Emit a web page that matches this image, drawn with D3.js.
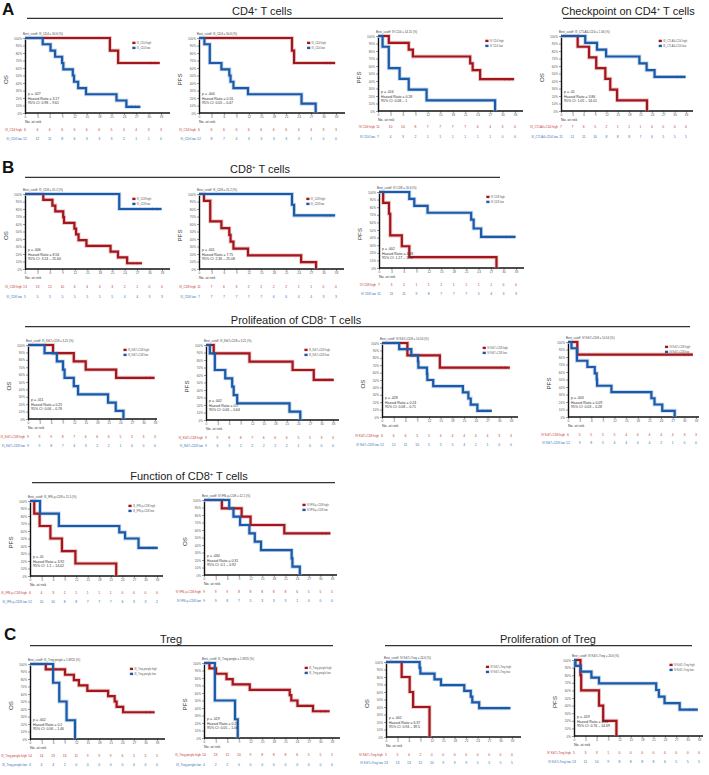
<!DOCTYPE html>
<html><head><meta charset="utf-8">
<script src="https://cdn.jsdelivr.net/npm/d3@7"></script>
<style>
body{margin:0;background:#fff;}
text{font-family:"Liberation Sans",Arial,Helvetica,sans-serif;}
</style></head>
<body><svg id="c" width="709" height="775"></svg>
<script>
// ---------- DATA ----------
const months = [0,3,6,9,12,15,18,21,24,27,30,33];
const yTicks = [0,10,20,30,40,50,60,70,80,90,100];

// Kaplan-Meier steps [month, survival %] — "high" group (red) and "low" group (blue)
const a1High = [[0,100],[20.6,83.3],[22.6,66.7],[32.7,66.7]];
const a1Low  = [[0,100],[4.3,91.7],[6.2,83.3],[7.3,75],[9.0,66.7],[9.3,58.3],[11.6,50],[11.9,41.7],[12.9,33.3],[14.8,25],[22.2,16.7],[24.6,8.3],[28,8.3]];
const a2High = [[0,100],[22.4,83.3],[22.9,66.7],[32.8,66.7]];
const a2Low  = [[0,100],[1.3,91.7],[2.6,66.7],[5.4,58.3],[7.3,50],[7.6,41.7],[8.3,33.3],[11.8,25],[24.7,12.5],[28.1,0]];
const a3High = [[0,100],[2.6,90.9],[7.4,81.8],[8.4,72.7],[22.2,63.6],[22.8,54.5],[24.6,42.4],[32.8,42.4]];
const a3Low  = [[0,100],[1.1,85.7],[2.6,57.1],[5.2,42.9],[7.4,28.6],[11.7,14.3],[28.2,0]];
const a4High = [[0,100],[4.4,85.7],[7.4,71.4],[9.3,57.1],[11.7,42.9],[13.0,28.6],[14.8,14.3],[22.7,0]];
const a4Low  = [[0,100],[6.4,90.9],[9.5,81.8],[11.9,72.7],[20.7,63.6],[22.6,54.5],[24.7,45.5],[32.9,45.5]];
const b1High = [[0,100],[4.4,92.3],[6.6,84.6],[7.3,76.9],[9.2,69.2],[9.4,61.5],[11.9,53.8],[12.3,46.2],[12.9,38.5],[14.8,30.8],[20.6,23.1],[22.4,15.4],[24.6,7.7],[28.2,7.7]];
const b1Low  = [[0,100],[22.7,80],[32.9,80]];
const b2High = [[0,100],[1.2,90.9],[2.7,63.6],[5.4,54.5],[7.3,45.5],[7.6,36.4],[8.3,27.3],[11.8,18.2],[24.6,9.1],[28.2,0]];
const b2Low  = [[0,100],[22.4,85.7],[22.9,71.4],[32.8,71.4]];
const b3High = [[0,100],[1.0,85.7],[2.4,71.4],[2.7,42.9],[5.5,28.6],[7.3,14.3],[28.3,0]];
const b3Low  = [[0,100],[7.3,90.9],[8.5,81.8],[11.7,72.7],[22.2,63.6],[22.8,52],[24.6,40.9],[32.9,40.9]];
const p1High = [[0,100],[6.5,88.9],[11.9,77.8],[15.0,66.7],[22.9,55.6],[32.9,55.6]];
const p1Low  = [[0,100],[4.3,88.9],[7.5,77.8],[9.1,66.7],[9.5,55.6],[11.9,44.4],[13.0,33.3],[20.8,22.2],[22.8,11.1],[24.8,0]];
const p2High = [[0,100],[2.0,88.9],[11.3,77.8],[22.5,66.7],[28.0,53.5],[33.2,53.5]];
const p2Low  = [[0,100],[1.0,88.9],[2.3,66.7],[5.0,55.6],[6.8,44.4],[7.2,33.3],[8.1,22.2],[21.7,11.1],[24.5,0]];
const p3High = [[0,100],[6.5,83.3],[14.8,66.7],[32.7,66.7]];
const p3Low  = [[0,100],[4.4,91.7],[7.5,83.3],[9.2,75],[9.3,66.7],[11.5,58.3],[11.6,50],[13.1,41.7],[20.7,33.3],[22.1,25],[22.7,16.7],[24.4,8.3],[28.1,8.3]];
const p4High = [[0,100],[2.4,83.3],[32.2,83.3]];
const p4Low  = [[0,100],[0.9,91.7],[2.3,75],[5.0,66.7],[6.9,58.3],[7.4,50],[7.5,41.7],[11.2,33.3],[21.5,25],[22.3,16.7],[24.3,8.3],[27.5,0]];
const f1High = [[0,100],[1.1,83.3],[2.5,66.7],[5.3,50],[8.3,33.3],[11.8,16.7],[22.4,0]];
const f1Low  = [[0,100],[2.6,83.3],[7.5,66.7],[23.2,58.3],[24.7,50],[28.2,37.5],[33.2,37.5]];
const f2High = [[0,100],[4.6,88.9],[9.7,77.8],[12.0,66.7],[20.7,55.6],[32.6,55.6]];
const f2Low  = [[0,100],[6.5,88.9],[7.6,77.8],[9.3,66.7],[11.7,55.6],[13.1,44.4],[14.7,33.3],[22.6,22.2],[22.8,11.1],[24.7,0]];
const c1High = [[0,100],[4.1,92.9],[9.1,85.7],[11.4,78.6],[12.7,71.4],[14.9,64.3],[20.3,57.1],[22.0,50],[22.5,42.9],[24.2,35.7],[32.4,35.7]];
const c1Low  = [[0,100],[6.0,75],[7.6,50],[9.5,25],[11.7,0]];
const c2High = [[0,100],[1.4,92.9],[3.1,85.7],[5.8,78.6],[7.4,71.4],[11.8,64.3],[22.1,57.1],[22.5,50],[24.1,42.9],[28.1,35.7],[32.4,35.7]];
const c2Low  = [[0,100],[2.8,50],[8.0,25],[8.7,0]];
const c3High = [[0,100],[4.1,80],[6.2,60],[7.1,40],[11.4,0]];
const c3Low  = [[0,100],[8.8,92.3],[9.0,84.6],[12.7,76.9],[14.4,69.2],[20.5,61.5],[22.2,53.8],[22.6,46.2],[24.4,38.5],[32.6,38.5]];
const c4High = [[0,100],[1.7,80],[1.9,60],[6.6,40],[7.7,20],[11.2,0]];
const c4Low  = [[0,100],[0.4,92.3],[1.8,84.6],[4.6,76.9],[6.6,69.2],[21.7,60.5],[22.4,51.8],[23.9,43.2],[27.9,34.6],[32.7,34.6]];

// numbers at risk (months 0..33)
const a1RiskHi=[6,6,6,6,6,6,6,5,4,4,3,3],  a1RiskLo=[12,12,11,8,6,3,3,3,2,1,1,0];
const a2RiskHi=[6,6,6,6,6,6,6,6,4,4,3,3],  a2RiskLo=[12,8,7,4,3,3,3,3,3,1,0,0];
const a3RiskHi=[11,10,10,8,7,7,7,7,6,4,3,0], a3RiskLo=[7,4,3,2,1,1,1,1,1,1,0,0];
const a4RiskHi=[7,7,6,5,2,1,1,1,0,0,0,0],  a4RiskLo=[11,11,11,10,8,8,8,7,6,5,5,5];
const b1RiskHi=[13,13,12,10,6,4,4,3,2,1,0,0], b1RiskLo=[5,5,5,5,5,5,5,5,4,4,3,3];
const b2RiskHi=[11,7,6,3,2,2,2,2,1,1,0,0], b2RiskLo=[7,7,7,7,7,7,6,6,4,4,3,3];
const b3RiskHi=[7,3,2,1,1,1,1,1,1,1,0,0],  b3RiskLo=[11,11,11,9,8,7,7,7,5,4,3,3];
const p1RiskHi=[9,9,9,8,7,6,6,6,5,5,3,3],  p1RiskLo=[9,9,8,7,4,3,2,2,1,0,0,0];
const p2RiskHi=[9,9,8,8,7,6,6,6,5,5,3,3],  p2RiskLo=[9,6,3,2,2,2,2,2,1,0,0,0];
const p3RiskHi=[6,6,6,5,5,4,4,4,4,4,3,3],  p3RiskLo=[12,12,11,10,5,5,5,4,2,1,0,0];
const p4RiskHi=[6,5,5,5,5,4,4,4,4,4,3,3],  p4RiskLo=[12,9,8,5,4,4,4,4,2,1,0,0];
const f1RiskHi=[6,4,3,2,1,1,1,1,0,0,0,0],  f1RiskLo=[12,10,10,8,8,7,7,7,6,3,3,2];
const f2RiskHi=[9,9,9,8,8,8,8,8,6,5,5,5],  f2RiskLo=[9,9,8,7,5,3,3,3,1,0,0,0];
const c1RiskHi=[14,14,13,13,11,9,9,9,6,5,5,5], c1RiskLo=[4,4,4,2,0,0,0,0,0,0,0,0];
const c2RiskHi=[14,13,11,10,9,8,8,8,6,5,5,5], c2RiskLo=[4,2,2,0,0,0,0,0,0,0,0,0];
const c3RiskHi=[5,5,4,2,0,0,0,0,0,0,0,0],  c3RiskLo=[13,13,13,12,10,9,9,9,5,5,5,5];
const c4RiskHi=[5,3,3,1,0,0,0,0,0,0,0,0],  c4RiskLo=[13,11,10,9,8,8,8,8,6,5,5,5];

// texts per panel (A1..A4, B1..B3, P1..P4, F1..F2, C1..C4)
const endpoints = ["OS","PFS","PFS","OS","OS","PFS","PFS","OS","PFS","OS","PFS","PFS","OS","OS","PFS","OS","PFS"];
const groupNames = ["III_CD4","III_CD4","IV CD4","III_CTLA4+CD4","III_CD8","III_CD8","IV CD8","III_Ki67+CD8","III_Ki67+CD8","IV Ki67+CD8","IV Ki67+CD8","III_IFN-γ+CD8","IV IFN-γ+CD8","III_Treg.perglo","III_Treg.perglo","IV Ki67+Treg","IV Ki67+Treg"];
const cutoffs = ["30.6","30.6","14.15","1.06","31.2","31.2","20.6","3.21","3.21","10.54","10.54","11.5","12.1","1.6925","1.6925","24.6","24.6"];
const pValues = [".027",".004",".016",".01",".006",".001",".002",".011",".002",".028",".003",".01",".034",".002",".019",".001",".019"];
const hazardRatios = ["3.17","0.16","0.28","3.86","8.56","7.75","4.68","0.25","0.2","0.24","0.09","3.92","0.31","0.2","0.23","6.37","3.81"];
const confInts = ["0.98 – 9.61","0.05 – 0.47","0.08 – 1","1.05 – 14.01","3.24 – 25.60","2.36 – 25.08","1.17 – 17.2","0.06 – 0.78","0.06 – 0.64","0.08 – 0.71","0.03 – 0.28","1.1 – 14.02","0.1 – 0.92","0.06 – 1.46","0.05 – 1.06","0.94 – 39.5","0.76 – 14.69"];

// section headers
const sectionTitles = [["CD4","T cells"],["Checkpoint on CD4","T cells"],["CD8","T cells"],["Prolifeation of CD8","T cells"],["Function of CD8","T cells"],["Treg",""],["Proliferation of Treg",""]];
const panelLetters = ["A","B","C"];

// ---------- LAYOUT (positions only) ----------
const series = [[a1High,a1Low],[a2High,a2Low],[a3High,a3Low],[a4High,a4Low],[b1High,b1Low],[b2High,b2Low],[b3High,b3Low],
  [p1High,p1Low],[p2High,p2Low],[p3High,p3Low],[p4High,p4Low],[f1High,f1Low],[f2High,f2Low],[c1High,c1Low],[c2High,c2Low],[c3High,c3Low],[c4High,c4Low]];
const risks = [[a1RiskHi,a1RiskLo],[a2RiskHi,a2RiskLo],[a3RiskHi,a3RiskLo],[a4RiskHi,a4RiskLo],[b1RiskHi,b1RiskLo],[b2RiskHi,b2RiskLo],[b3RiskHi,b3RiskLo],
  [p1RiskHi,p1RiskLo],[p2RiskHi,p2RiskLo],[p3RiskHi,p3RiskLo],[p4RiskHi,p4RiskLo],[f1RiskHi,f1RiskLo],[f2RiskHi,f2RiskLo],[c1RiskHi,c1RiskLo],[c2RiskHi,c2RiskLo],[c3RiskHi,c3RiskLo],[c4RiskHi,c4RiskLo]];
const layout = [
 {x0:25,x33:161,x1:170,top:38,bot:113,nar:122.5,r1:131,r2:140},
 {x0:199,x33:336,x1:345,top:38,bot:113,nar:122.5,r1:131,r2:140},
 {x0:378,x33:515,x1:523,top:36,bot:111,nar:120.5,r1:128,r2:138},
 {x0:561,x33:686,x1:693,top:36,bot:111,nar:120.5,r1:128,r2:138},
 {x0:25,x33:162,x1:170,top:194,bot:269,nar:278.5,r1:288,r2:298},
 {x0:199,x33:336,x1:344,top:194,bot:269,nar:278.5,r1:288,r2:298},
 {x0:379,x33:516,x1:524,top:192,bot:268,nar:277.5,r1:286,r2:295},
 {x0:28,x33:155,x1:157,top:345,bot:419,nar:428.5,r1:438,r2:447},
 {x0:206,x33:333,x1:339,top:345,bot:420,nar:429.5,r1:438.5,r2:447},
 {x0:382,x33:511,x1:518,top:343,bot:417,nar:426.5,r1:437,r2:446},
 {x0:568,x33:696,x1:699,top:342,bot:417,nar:426.5,r1:435.5,r2:444},
 {x0:30,x33:157,x1:163,top:501,bot:576,nar:585.5,r1:594,r2:602.5},
 {x0:204,x33:332,x1:337,top:500,bot:575,nar:584.5,r1:593,r2:602},
 {x0:30,x33:157,x1:165,top:664,bot:739,nar:748.5,r1:757,r2:766},
 {x0:204,x33:332,x1:340,top:663,bot:738,nar:747.5,r1:756,r2:766},
 {x0:386,x33:512,x1:521,top:662,bot:737,nar:746.5,r1:756,r2:764},
 {x0:574,x33:699,x1:703,top:660,bot:736,nar:745.5,r1:754,r2:763}
];
const headerLayout = [
 {cx:262,y:15,l1:27,l2:503,ly:18.3},
 {cx:628,y:15,l1:563,l2:682,ly:18.3},
 {cx:260,y:173,l1:25,l2:500,ly:177.3},
 {cx:296,y:324,l1:25,l2:690,ly:326.7},
 {cx:189,y:480,l1:32,l2:335,ly:482.7},
 {cx:171,y:643,l1:30,l2:333,ly:645.7},
 {cx:548,y:643,l1:385,l2:692,ly:645.7}
];
const letterLayout = [{x:2,y:15},{x:2,y:173},{x:4,y:640}];

// ---------- DRAW ----------
const svg = d3.select("#c");
const RED="#a3161c", BLUE="#1b5aa8", RED_T="#c4383a", BLUE_T="#3572b8";

panelLetters.forEach((t,i)=>{
  svg.append("text").attr("x",letterLayout[i].x).attr("y",letterLayout[i].y)
    .attr("font-size",17).attr("font-weight","bold").attr("fill","#111").text(t);
});
sectionTitles.forEach((t,i)=>{
  const h = headerLayout[i];
  const tx = svg.append("text").attr("x",h.cx).attr("y",h.y).attr("text-anchor","middle")
    .attr("font-size",11).attr("fill","#222");
  tx.append("tspan").text(t[0]);
  if (t[1]) {
    tx.append("tspan").attr("font-size",6).attr("dy",-4).text("+");
    tx.append("tspan").attr("dy",4).text(" " + t[1]);
  }
  svg.append("line").attr("x1",h.l1).attr("x2",h.l2).attr("y1",h.ly).attr("y2",h.ly)
    .attr("stroke","#333").attr("stroke-width",1.2);
});

layout.forEach((p,i)=>{
  const g = svg.append("g");
  const x = d3.scaleLinear().domain([0,33]).range([p.x0,p.x33]);
  const y = d3.scaleLinear().domain([0,100]).range([p.bot,p.top]);
  const xEnd = x.invert(p.x1);

  // x axis
  const gx = g.append("g").attr("transform",`translate(0,${p.bot})`)
    .call(d3.axisBottom(x).tickValues(months).tickSize(2).tickSizeOuter(0).tickPadding(1.2));
  gx.select(".domain").remove();
  gx.append("line").attr("x1",x(0)).attr("x2",x(xEnd)).attr("stroke","#111").attr("stroke-width",1.4);
  gx.selectAll(".tick line").attr("stroke","#333").attr("stroke-width",0.5);
  gx.selectAll(".tick text").attr("font-size",3.2).attr("fill","#555");

  // y axis
  const gy = g.append("g").attr("transform",`translate(${p.x0},0)`)
    .call(d3.axisLeft(y).tickValues(yTicks).tickFormat(d=>d+"%").tickSize(2).tickSizeOuter(0).tickPadding(1));
  gy.select(".domain").attr("stroke","#111").attr("stroke-width",1.4);
  gy.selectAll(".tick line").attr("stroke","#333").attr("stroke-width",0.5);
  gy.selectAll(".tick text").attr("font-size",3.1).attr("fill","#555");

  // y label
  g.append("text").attr("transform",`translate(${p.x0-17},${(p.top+p.bot)/2+4}) rotate(-90)`)
    .attr("text-anchor","middle").attr("font-size",6.2).attr("fill","#333").text(endpoints[i]);

  // cutoff caption
  g.append("text").attr("x",p.x0-2).attr("y",p.top-3).attr("font-size",2.9).attr("fill","#444")
    .text(`Best_cutoff: ${groupNames[i]} = ${cutoffs[i]} (%)`);

  // curves
  const line = d3.line().x(d=>x(d[0])).y(d=>y(d[1])).curve(d3.curveStepAfter);
  const cols = [RED, BLUE];
  const halos = ["#e3a9ab","#a8c1e3"];
  series[i].forEach((s,k)=>{
    g.append("path").attr("d",line(s)).attr("fill","none").attr("stroke",halos[k])
      .attr("stroke-width",4).attr("stroke-opacity",0.6);
  });
  series[i].forEach((s,k)=>{
    g.append("path").attr("d",line(s)).attr("fill","none").attr("stroke",cols[k])
      .attr("stroke-width",2.2);
    const last = s[s.length-1];
    if (last[1] > 0) {
      [last[0]-2.2, last[0]-1.2].forEach(t=>{
        g.append("line").attr("x1",x(t)).attr("x2",x(t)).attr("y1",y(last[1])-1.3).attr("y2",y(last[1])+1.3)
          .attr("stroke",cols[k]).attr("stroke-width",0.5);
      });
    }
  });

  // legend
  const lx = p.x0 + 0.74*(p.x1-p.x0), ly = p.top + 5;
  ["high","low"].forEach((h,k)=>{
    g.append("rect").attr("x",lx).attr("y",ly+k*5-1.3).attr("width",3.2).attr("height",2.4).attr("fill",cols[k]);
    g.append("text").attr("x",lx+4.5).attr("y",ly+k*5+0.9).attr("font-size",2.6).attr("fill","#555")
      .text(`${groupNames[i]} ${h}`);
  });

  // stats
  [`p = ${pValues[i]}`,`Hazard Ratio = ${hazardRatios[i]}`,`95% CI: ${confInts[i]}`].forEach((t,k)=>{
    g.append("text").attr("x",p.x0+3).attr("y",p.bot-18+k*4.6).attr("font-size",3.5).attr("fill","#333").text(t);
  });

  // risk table
  g.append("text").attr("x",p.x0).attr("y",p.nar).attr("font-size",3.6).attr("fill","#333").text("No. at risk");
  const ry = [p.r1,p.r2], tc = [RED_T, BLUE_T];
  risks[i].forEach((row,k)=>{
    g.append("text").attr("x",p.x0-3).attr("y",ry[k]).attr("text-anchor","end").attr("font-size",3)
      .attr("fill",tc[k]).text(`${groupNames[i]} ${k?"low":"high"}`);
    g.selectAll(null).data(row).enter().append("text")
      .attr("x",(d,j)=>x(months[j])).attr("y",ry[k]).attr("text-anchor","middle")
      .attr("font-size",3.4).attr("fill",tc[k]).text(d=>d);
  });
});
</script>
</body></html>
